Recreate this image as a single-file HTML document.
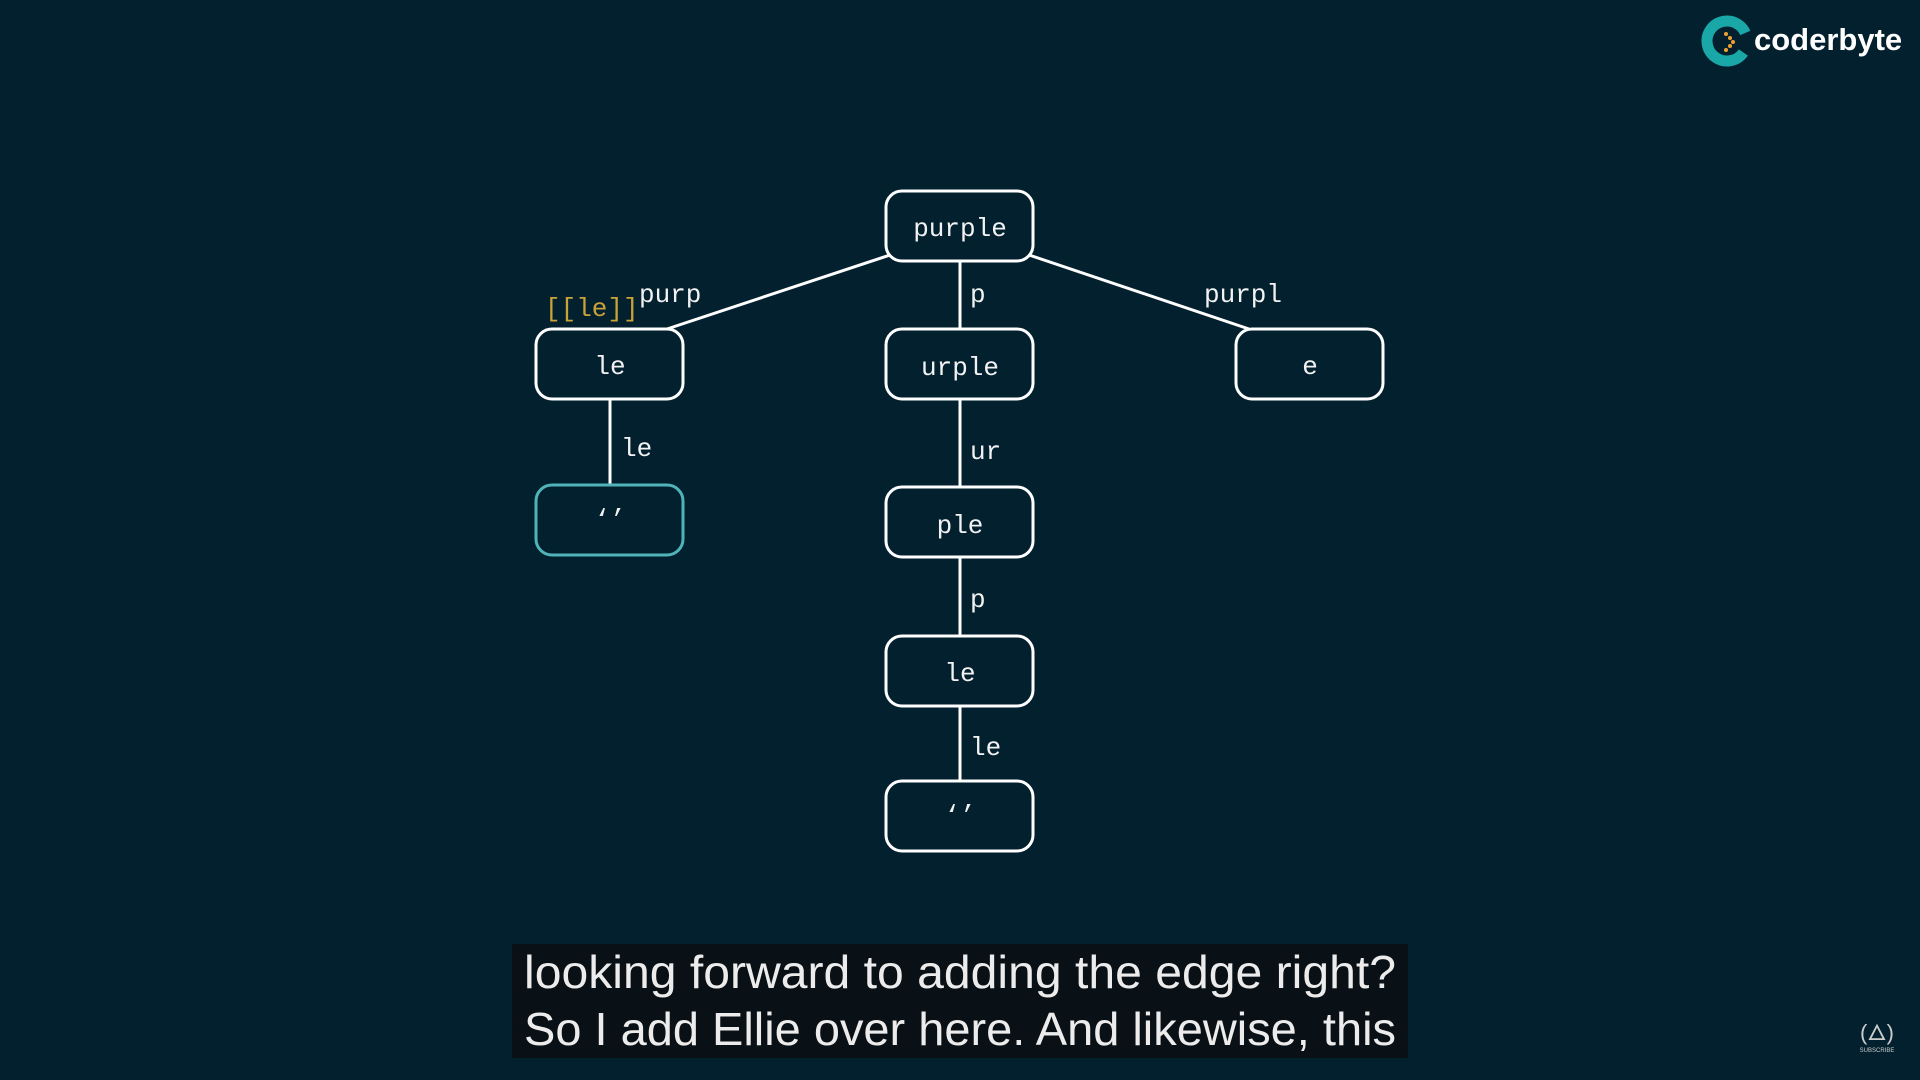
<!DOCTYPE html>
<html><head><meta charset="utf-8"><style>
html,body{margin:0;padding:0;background:#03202f;}
svg{display:block}
</style></head><body>
<svg width="1920" height="1080" viewBox="0 0 1920 1080" xmlns="http://www.w3.org/2000/svg">
<rect width="1920" height="1080" fill="#03202f"/>
<g stroke="#fff" stroke-width="3" fill="none">
<line x1="890" y1="255" x2="667" y2="329"/>
<line x1="1029" y1="255" x2="1249" y2="329"/>
<line x1="960" y1="261" x2="960" y2="329"/>
<line x1="610" y1="399" x2="610" y2="485"/>
<line x1="960" y1="399" x2="960" y2="487"/>
<line x1="960" y1="557" x2="960" y2="636"/>
<line x1="960" y1="705" x2="960" y2="781"/>
<rect x="886" y="191" width="147" height="70" rx="16" fill="#03202f"/>
<rect x="536" y="329" width="147" height="70" rx="16" fill="#03202f"/>
<rect x="886" y="329" width="147" height="70" rx="16" fill="#03202f"/>
<rect x="1236" y="329" width="147" height="70" rx="16" fill="#03202f"/>
<rect x="536" y="485" width="147" height="70" rx="16" fill="#03202f" stroke="#4fb3b8"/>
<rect x="886" y="487" width="147" height="70" rx="16" fill="#03202f"/>
<rect x="886" y="636" width="147" height="70" rx="16" fill="#03202f"/>
<rect x="886" y="781" width="147" height="70" rx="16" fill="#03202f"/>
</g>
<g font-family="Liberation Mono, monospace" font-size="26" fill="#f2f2f2" text-anchor="middle">
<text x="960" y="236">purple</text>
<text x="610" y="374">le</text>
<text x="960" y="375">urple</text>
<text x="1310" y="374">e</text>
<text x="610" y="527">‘’</text>
<text x="960" y="533">ple</text>
<text x="960" y="681">le</text>
<text x="960" y="823">‘’</text>
</g>
<g font-family="Liberation Mono, monospace" font-size="26" fill="#f2f2f2">
<text x="639" y="302">purp</text>
<text x="970" y="302">p</text>
<text x="1204" y="302">purpl</text>
<text x="621" y="456">le</text>
<text x="970" y="459">ur</text>
<text x="970" y="607">p</text>
<text x="970" y="755">le</text>
<text x="545" y="316" fill="#c9a23a">[[le]]</text>
</g>
<rect x="512" y="944" width="896" height="114" fill="#0a1116"/>
<g font-family="Liberation Sans, sans-serif" font-size="46" fill="#ececec">
<text x="524" y="988" textLength="872" lengthAdjust="spacingAndGlyphs">looking forward to adding the edge right?</text>
<text x="524" y="1045" textLength="872" lengthAdjust="spacingAndGlyphs">So I add Ellie over here. And likewise, this</text>
</g>
<circle cx="1727" cy="41" r="20" fill="none" stroke="#1aa7a8" stroke-width="11" stroke-dasharray="105 30" transform="rotate(35 1727 41)"/>
<g fill="#f0a030"><circle cx="1726" cy="34" r="2"/><circle cx="1730" cy="38" r="2"/><circle cx="1733" cy="42" r="2"/><circle cx="1730" cy="46" r="2"/><circle cx="1726" cy="50" r="2"/></g>
<text x="1754" y="50" font-family="Liberation Sans, sans-serif" font-weight="bold" font-size="31" fill="#fff">coderbyte</text>
<text x="1877" y="1040" font-family="Liberation Sans, sans-serif" font-size="22" fill="#ccc" text-anchor="middle">(🜂)</text>
<text x="1877" y="1052" font-family="Liberation Sans, sans-serif" font-size="6" fill="#ccc" text-anchor="middle">SUBSCRIBE</text>
</svg>
</body></html>
